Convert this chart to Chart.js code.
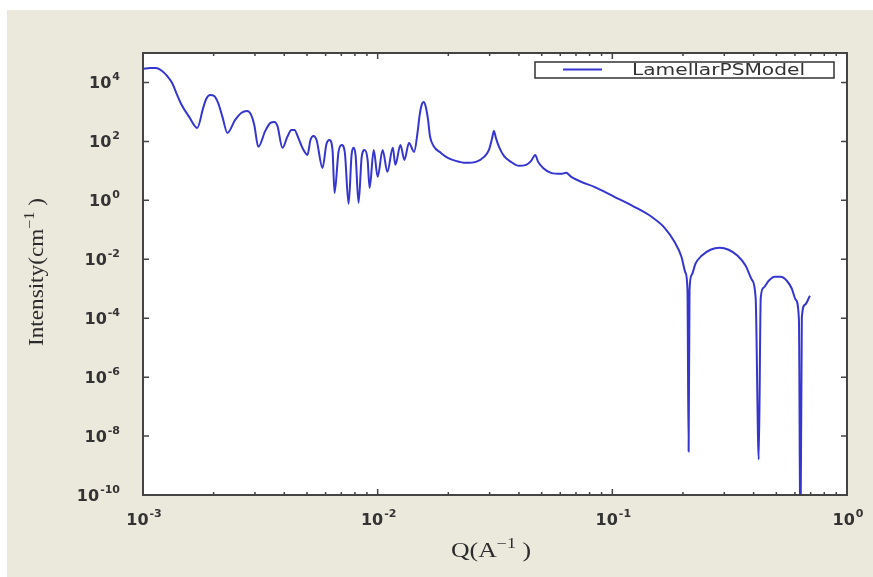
<!DOCTYPE html>
<html>
<head>
<meta charset="utf-8">
<script src="https://cdn.jsdelivr.net/npm/chart.js@4.4.0/dist/chart.umd.min.js"></script>
<style>
  html, body { margin: 0; padding: 0; background: #fff; }
  canvas { display: block; }
</style>
</head>
<body>
<canvas id="sasChart" width="873" height="577"></canvas>
<script>
// Q (1/A) and intensity (1/cm)
const qValues = [
  0.001, 0.001071, 0.001137, 0.001206, 0.001267, 0.001331, 0.001398, 0.001454, 0.001573, 0.001702,
  0.001805, 0.001859, 0.001932, 0.00201, 0.00209, 0.00218, 0.00229, 0.00247, 0.00262, 0.00278,
  0.00289, 0.00298, 0.0031, 0.00332, 0.00349, 0.00363, 0.00374, 0.00393, 0.00412, 0.00429,
  0.00442, 0.00459, 0.00478, 0.00502, 0.00517, 0.00533, 0.00549, 0.00582, 0.00605, 0.00623,
  0.00642, 0.00655, 0.00681, 0.00702, 0.00724, 0.00752, 0.00774, 0.00789, 0.00805, 0.00829,
  0.00855, 0.0088, 0.00906, 0.00924, 0.00962, 0.01, 0.0105, 0.011, 0.0116, 0.0119,
  0.0125, 0.013, 0.0136, 0.0143, 0.0148, 0.0151, 0.0154, 0.0157, 0.016, 0.0164,
  0.0167, 0.0173, 0.0186, 0.0199, 0.0215, 0.0238, 0.0262, 0.0284, 0.0298, 0.0307,
  0.0313, 0.0319, 0.0329, 0.0345, 0.037, 0.04, 0.0429, 0.0451, 0.0469, 0.0483,
  0.0507, 0.0548, 0.0605, 0.0635, 0.0668, 0.0737, 0.0838, 0.102, 0.124, 0.147,
  0.167, 0.184, 0.197, 0.205, 0.209, 0.2114, 0.2133, 0.218, 0.226, 0.240,
  0.262, 0.287, 0.313, 0.342, 0.370, 0.393, 0.408, 0.4206, 0.429, 0.441,
  0.464, 0.492, 0.522, 0.554, 0.582, 0.605, 0.624, 0.633, 0.642, 0.662,
  0.695
];
const intensity = [
  2.87e4, 3.1e4, 3.1e4, 2.45e4, 1.66e4, 9.6e3, 3.77e3, 1.87e3, 678, 287,
  1370, 2760, 3770, 3480, 2020, 678, 194, 535, 925, 1080,
  791, 362, 65.2, 227, 424, 458, 335, 60.3, 142, 245,
  245, 132, 60.3, 34.8, 112, 153, 112, 12.6, 82, 112,
  51.5, 1.79, 44, 76, 44, 0.76, 34.8, 60.3, 34.8, 0.82,
  29.9, 51.5, 23.6, 2.65, 51.5, 6.27, 51.5, 9.25, 60.3, 16,
  76, 23.6, 89, 44, 210, 791, 1730, 2180, 1600, 535,
  153, 70, 40.7, 27.6, 21.8, 18.7, 20.2, 29.9, 51.5, 122,
  227, 132, 65, 32.2, 20.2, 14.8, 16, 21.8, 34.8, 20.2,
  12.6, 8.55, 7.91, 8.55, 6.27, 4.24, 2.87, 1.32, 0.603, 0.276,
  0.117, 0.039, 0.0122, 3.48e-3, 9.2e-4, 2.99e-9, 9.2e-4, 2.98e-3, 7.03e-3, 0.0131,
  0.021, 0.0245, 0.021, 0.0131, 6.03e-3, 2.02e-3, 4.95e-4, 1.6e-9, 4.95e-4, 1.08e-3,
  1.87e-3, 2.55e-3, 2.55e-3, 1.87e-3, 1e-3, 4.24e-4, 8.9e-5, 1e-12, 1.04e-4, 2.87e-4,
  5.79e-4
];
const seriesLabel = 'LamellarPSModel';
const xTickExps = [-3, -2, -1, 0];
const yTickExps = [-10, -8, -6, -4, -2, 0, 2, 4];

const LINE_BLUE = '#3535cf';
const INK = '#333333';

// minor ticks 2..9 in every decade of the Q axis
const xMinorTicks = [];
for (const e of [-3, -2, -1]) {
  for (let m = 2; m <= 9; m++) xMinorTicks.push(m * Math.pow(10, e));
}

function drawPow(ctx, exp, x, y, align) {
  ctx.font = 'bold 16px "DejaVu Sans"';
  const bw = ctx.measureText('10').width;
  ctx.font = 'bold 11px "DejaVu Sans"';
  const ew = ctx.measureText(String(exp)).width;
  const total = bw + 1 + ew;
  const left = align === 'right' ? x - total : x - total / 2;
  ctx.textAlign = 'left';
  ctx.textBaseline = 'alphabetic';
  ctx.font = 'bold 16px "DejaVu Sans"';
  ctx.fillText('10', left, y);
  ctx.font = 'bold 11px "DejaVu Sans"';
  ctx.fillText(String(exp), left + bw + 1, y - 8);
}

// text with a raised exponent, stretched to a target width
function drawSupText(ctx, parts, cx, cy, targetW, size) {
  const widths = parts.map(p => {
    ctx.font = (p.sup ? Math.round(size * 0.68) : size) + 'px "Liberation Serif"';
    return ctx.measureText(p.t).width;
  });
  const w = widths.reduce((a, b) => a + b, 0);
  const sx = targetW / w;
  ctx.save();
  ctx.translate(cx, cy);
  ctx.scale(sx, 1);
  let x = -w / 2;
  ctx.textAlign = 'left';
  ctx.textBaseline = 'middle';
  parts.forEach((p, i) => {
    ctx.font = (p.sup ? Math.round(size * 0.68) : size) + 'px "Liberation Serif"';
    ctx.fillText(p.t, x, p.sup ? -size * 0.38 : 0);
    x += widths[i];
  });
  ctx.restore();
}

const frame = {
  id: 'frame',
  beforeDraw(chart) {
    const ctx = chart.ctx;
    const a = chart.chartArea;
    ctx.save();
    ctx.fillStyle = '#ffffff';
    ctx.fillRect(0, 0, chart.width, chart.height);
    ctx.fillStyle = '#ebe8dc';
    ctx.fillRect(7, 10, chart.width - 7, chart.height - 10);
    ctx.fillStyle = '#ffffff';
    ctx.fillRect(a.left, a.top, a.right - a.left, a.bottom - a.top);
    ctx.restore();
  },
  afterDraw(chart) {
    const ctx = chart.ctx;
    const a = chart.chartArea;
    const xs = chart.scales.x, ys = chart.scales.y;
    ctx.save();
    ctx.strokeStyle = '#444';
    ctx.lineWidth = 1.5;
    ctx.beginPath();
    // inward ticks on all four sides
    xTickExps.forEach(e => {
      const px = xs.getPixelForValue(Math.pow(10, e));
      ctx.moveTo(px, a.bottom); ctx.lineTo(px, a.bottom - 6);
      ctx.moveTo(px, a.top); ctx.lineTo(px, a.top + 6);
    });
    xMinorTicks.forEach(v => {
      const px = xs.getPixelForValue(v);
      ctx.moveTo(px, a.bottom); ctx.lineTo(px, a.bottom - 3);
      ctx.moveTo(px, a.top); ctx.lineTo(px, a.top + 3);
    });
    yTickExps.forEach(e => {
      const py = ys.getPixelForValue(Math.pow(10, e));
      ctx.moveTo(a.left, py); ctx.lineTo(a.left + 6, py);
      ctx.moveTo(a.right, py); ctx.lineTo(a.right - 6, py);
    });
    ctx.stroke();
    ctx.lineWidth = 2;
    ctx.strokeRect(a.left, a.top, a.right - a.left, a.bottom - a.top);

    // tick labels
    ctx.fillStyle = INK;
    xTickExps.forEach(e => drawPow(ctx, e, xs.getPixelForValue(Math.pow(10, e)) + 1, a.bottom + 30, 'center'));
    yTickExps.forEach(e => drawPow(ctx, e, a.left - 23, ys.getPixelForValue(Math.pow(10, e)) + 6, 'right'));

    // axis titles
    ctx.fillStyle = '#2b2b2b';
    drawSupText(ctx, [{ t: 'Q(A' }, { t: '\u22121', sup: true }, { t: ' )' }], 491, 552, 80, 20);
    ctx.save();
    ctx.translate(38, 272);
    ctx.rotate(-Math.PI / 2);
    drawSupText(ctx, [{ t: 'Intensity(cm' }, { t: '\u22121', sup: true }, { t: ' )' }], 0, 0, 148, 20);
    ctx.restore();

    // legend box inside the plot
    const ds = chart.data.datasets[0];
    ctx.fillStyle = '#ffffff';
    ctx.fillRect(535, 62, 299, 16);
    ctx.strokeStyle = '#333';
    ctx.lineWidth = 1.5;
    ctx.strokeRect(535, 62, 299, 16);
    ctx.strokeStyle = ds.borderColor;
    ctx.lineWidth = 2;
    ctx.beginPath();
    ctx.moveTo(563, 69.5); ctx.lineTo(602, 69.5);
    ctx.stroke();
    ctx.fillStyle = '#333333';
    ctx.font = '16px "DejaVu Sans"';
    const tw = ctx.measureText(ds.label).width;
    ctx.save();
    ctx.translate(632, 70.5);
    ctx.scale(173 / tw, 1);
    ctx.textAlign = 'left';
    ctx.textBaseline = 'middle';
    ctx.fillText(ds.label, 0, 0);
    ctx.restore();
    ctx.restore();
  }
};

new Chart(document.getElementById('sasChart').getContext('2d'), {
  type: 'line',
  data: {
    datasets: [{
      label: seriesLabel,
      data: qValues.map((q, i) => ({ x: q, y: intensity[i] })),
      borderColor: LINE_BLUE,
      borderWidth: 2,
      pointRadius: 0,
      fill: false,
      cubicInterpolationMode: 'monotone'
    }]
  },
  options: {
    responsive: false,
    animation: false,
    devicePixelRatio: 1,
    events: [],
    layout: { padding: { left: 143, top: 53, right: 26, bottom: 82 } },
    scales: {
      x: { type: 'logarithmic', min: 1e-3, max: 1, display: false },
      y: { type: 'logarithmic', min: 1e-10, max: 1e5, display: false }
    },
    plugins: {
      legend: { display: false },
      tooltip: { enabled: false }
    }
  },
  plugins: [frame]
});
</script>
</body>
</html>
